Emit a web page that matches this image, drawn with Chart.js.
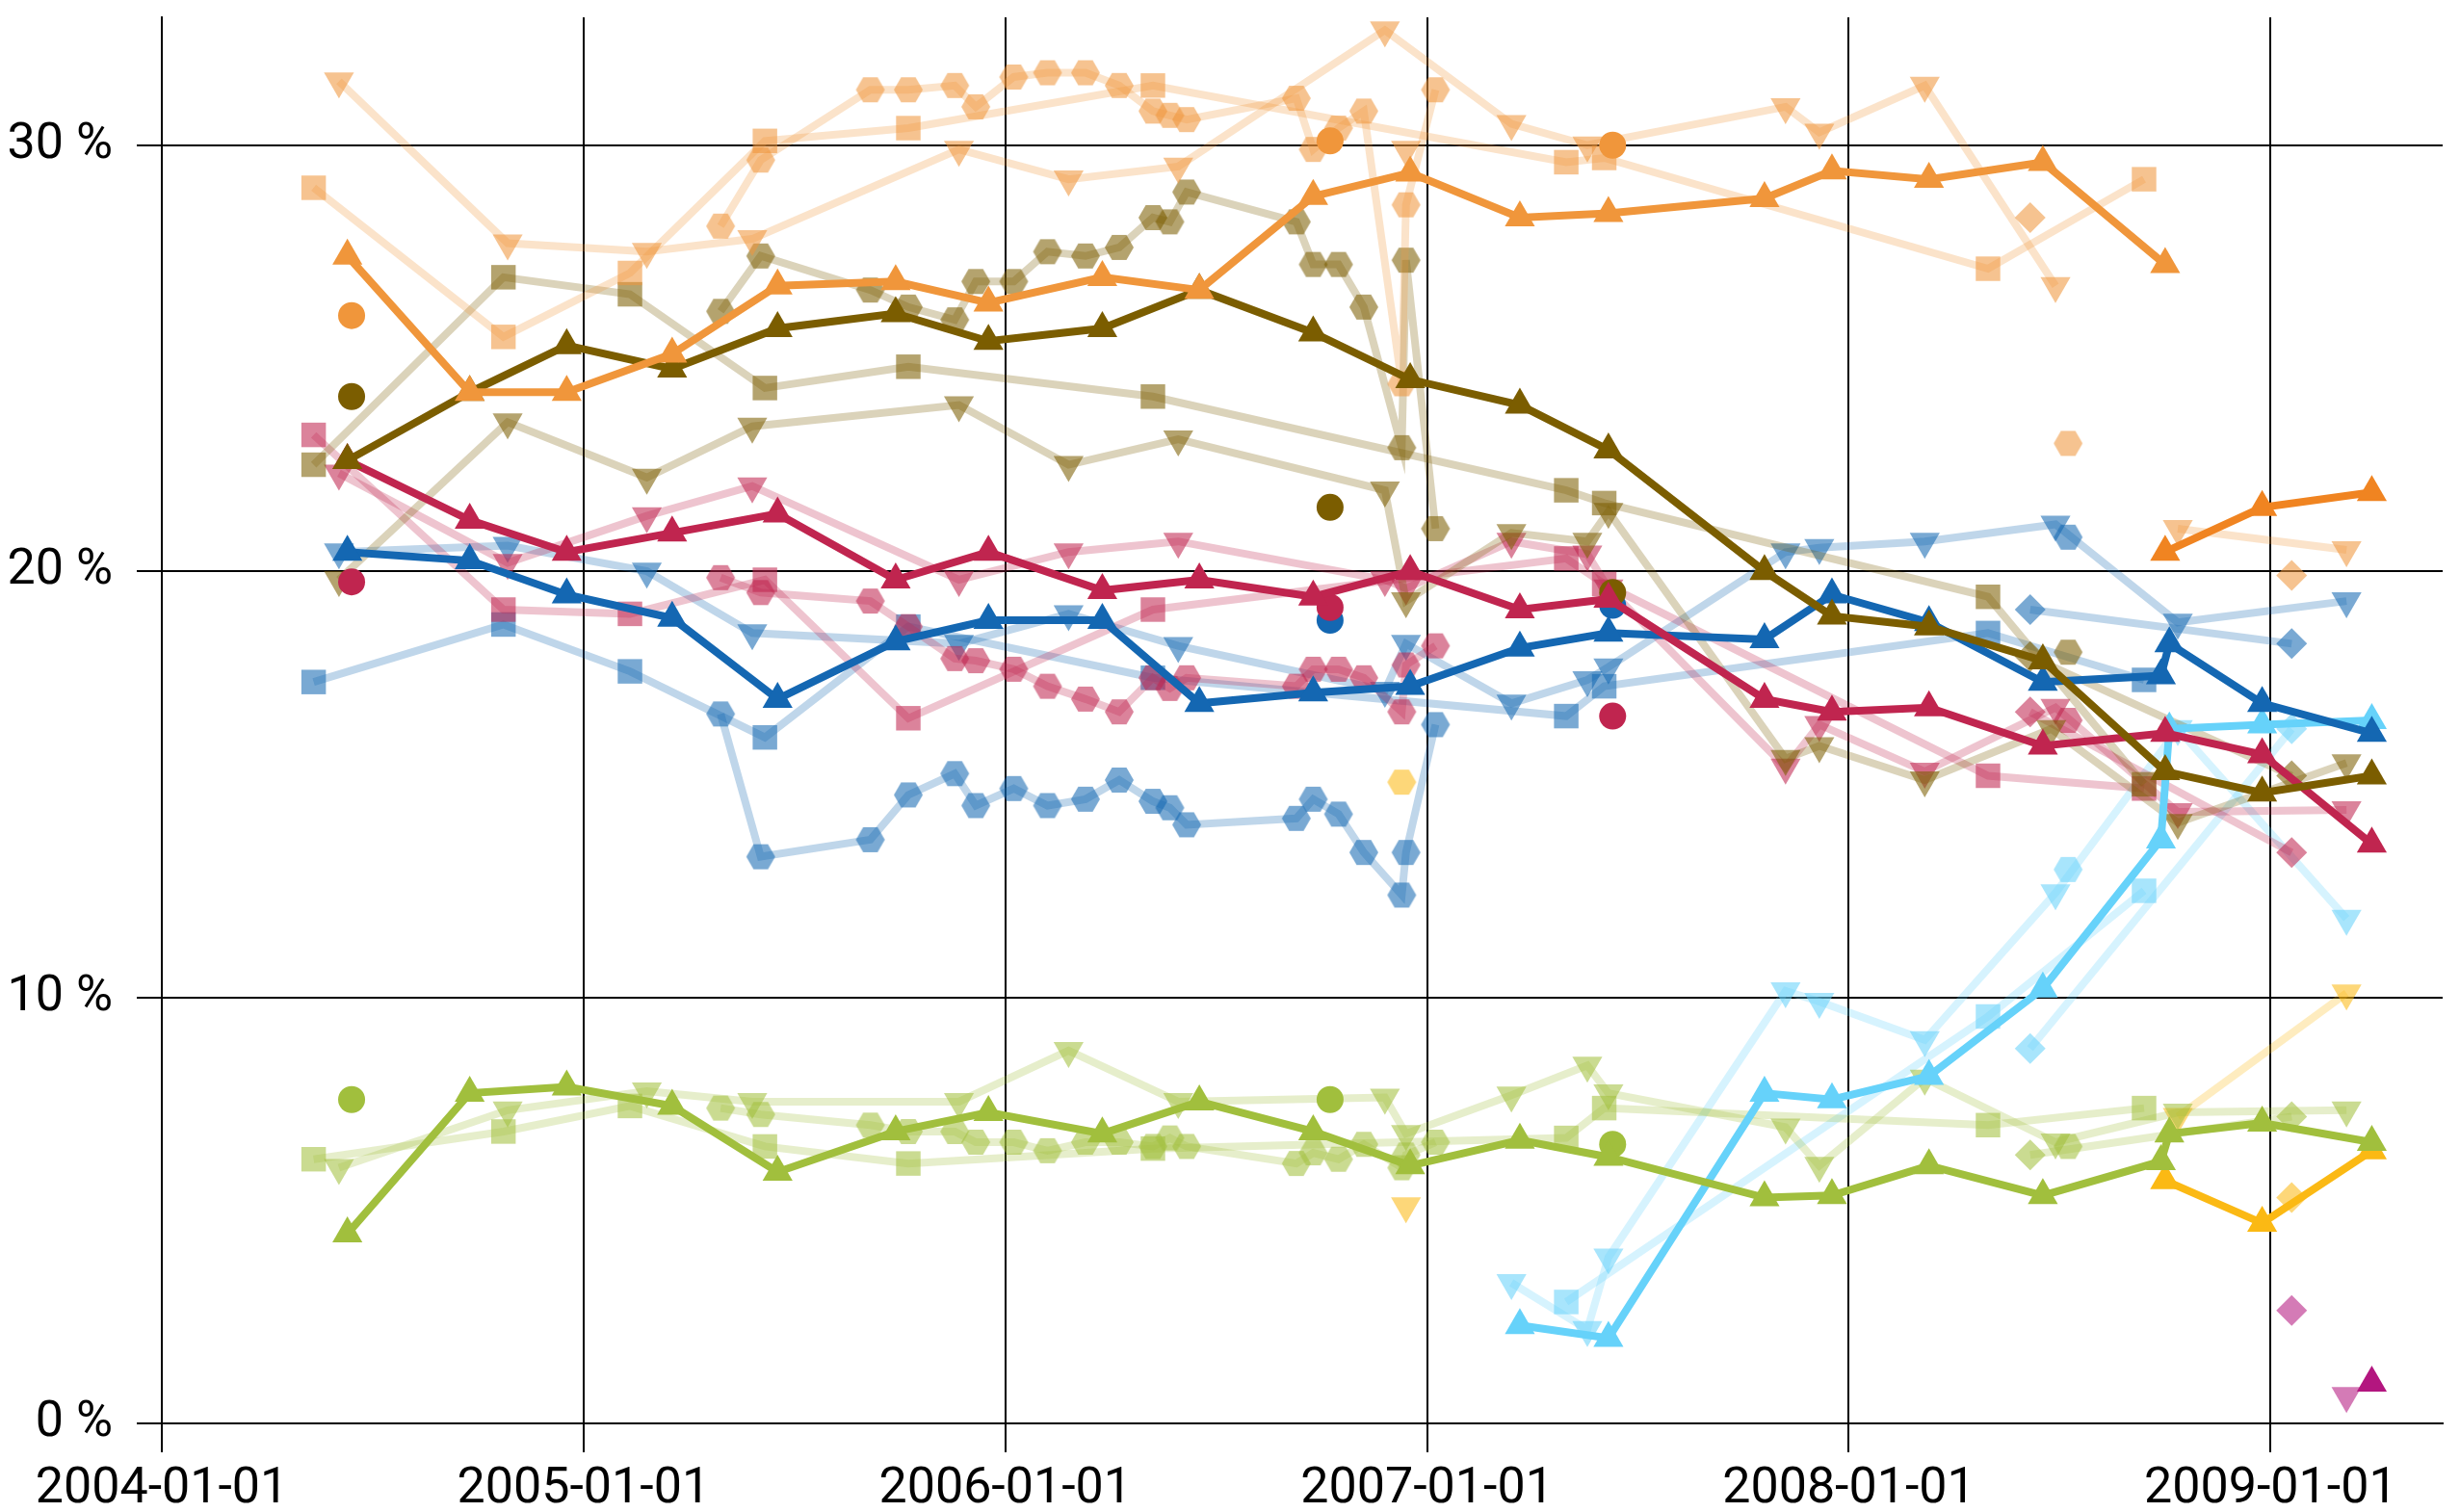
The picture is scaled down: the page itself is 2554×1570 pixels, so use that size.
<!DOCTYPE html>
<html>
<head>
<meta charset="utf-8">
<script src="https://cdn.jsdelivr.net/npm/chart.js@4.4.1/dist/chart.umd.min.js"></script>
<style>
  html, body { margin: 0; padding: 0; background: #fff; }
  #chart { display: block; }
</style>
</head>
<body>
<canvas id="chart" width="2554" height="1570"></canvas>
<script>
// axis ticks
const xYears = [2004, 2005, 2006, 2007, 2008, 2009];
const yTicks = [0, 10, 20, 30];

// poll values: [decimal year, percent]
// orange party
const orangeMain = [[2004.44,27.4],[2004.73,24.2],[2004.96,24.2],[2005.21,25.1],[2005.46,26.7],[2005.74,26.8],[2005.96,26.3],[2006.23,26.9],[2006.46,26.6],[2006.73,28.8],[2006.96,29.35],[2007.22,28.3],[2007.43,28.4],[2007.8,28.75],[2007.96,29.4],[2008.19,29.2],[2008.46,29.6],[2008.75,27.2]];
const orangeSquare = [[2004.36,29.0],[2004.81,25.5],[2005.11,27.0],[2005.43,30.1],[2005.77,30.4],[2006.35,31.4],[2007.33,29.6],[2007.42,29.7],[2008.33,27.1],[2008.70,29.2]];
const orangeDown = [[2004.42,31.5],[2004.82,27.7],[2005.15,27.5],[2005.40,27.8],[2005.89,29.9],[2006.15,29.2],[2006.41,29.5],[2006.90,32.7],[2007.20,30.5],[2007.38,30.0],[2007.85,30.9],[2007.93,30.3],[2008.18,31.4],[2008.49,26.7]];
const orangeDownLone = [[2006.95,29.9]];
const orangeHex = [[2005.325,28.1],[2005.42,29.65],[2005.68,31.3],[2005.77,31.3],[2005.88,31.4],[2005.93,30.9],[2006.02,31.6],[2006.10,31.7],[2006.19,31.7],[2006.27,31.4],[2006.35,30.8],[2006.39,30.7],[2006.43,30.6],[2006.69,31.1],[2006.73,29.9],[2006.79,30.4],[2006.85,30.8],[2006.94,24.4],[2006.95,28.6],[2007.02,31.3]];
const orangeHexLone = [[2008.52,23.0]];
const orangeDiamond = [[2008.43,28.3]];
const orangeCircle = [[2004.45,26.0],[2006.77,30.1],[2007.44,30.0]];

// orange party, after the split
const newOrangeMain = [[2008.75,20.45],[2008.98,21.5],[2009.24,21.85]];
const newOrangeDown = [[2008.78,21.0],[2009.18,20.5]];
const newOrangeDiamond = [[2009.05,19.9]];

// olive party
const oliveMain = [[2004.44,22.6],[2004.73,24.2],[2004.96,25.3],[2005.21,24.75],[2005.46,25.7],[2005.74,26.05],[2005.96,25.4],[2006.23,25.7],[2006.46,26.6],[2006.73,25.6],[2006.96,24.5],[2007.22,23.9],[2007.43,22.85],[2007.8,20.0],[2007.96,18.95],[2008.19,18.7],[2008.46,17.9],[2008.75,15.3],[2008.98,14.8],[2009.24,15.2]];
const oliveSquare = [[2004.36,22.5],[2004.81,26.9],[2005.11,26.5],[2005.43,24.3],[2005.77,24.8],[2006.35,24.1],[2007.33,21.9],[2007.42,21.6],[2008.33,19.4],[2008.70,15.0]];
const oliveDown = [[2004.42,19.8],[2004.82,23.5],[2005.15,22.2],[2005.40,23.4],[2005.89,23.9],[2006.15,22.5],[2006.41,23.1],[2006.90,21.9],[2006.95,19.3],[2007.20,20.9],[2007.38,20.7],[2007.43,21.4],[2007.85,15.6],[2007.93,15.9],[2008.18,15.1],[2008.48,16.3],[2008.78,14.1],[2009.18,15.5]];
const oliveHex = [[2005.325,26.1],[2005.42,27.4],[2005.68,26.6],[2005.77,26.2],[2005.88,25.9],[2005.93,26.8],[2006.02,26.8],[2006.10,27.5],[2006.19,27.4],[2006.27,27.6],[2006.35,28.3],[2006.39,28.2],[2006.43,28.9],[2006.69,28.2],[2006.73,27.2],[2006.79,27.2],[2006.85,26.2],[2006.94,22.9],[2006.95,27.3],[2007.02,21.0]];
const oliveHexLone = [[2008.52,18.1]];
const oliveDiamond = [[2008.43,18.0],[2009.05,15.2]];
const oliveCircle = [[2004.45,24.1],[2006.77,21.5],[2007.44,19.5]];

// crimson party
const crimsonMain = [[2004.44,22.6],[2004.73,21.2],[2004.96,20.45],[2005.21,20.9],[2005.46,21.35],[2005.74,19.8],[2005.96,20.45],[2006.23,19.55],[2006.46,19.8],[2006.73,19.4],[2006.96,20.0],[2007.22,19.1],[2007.43,19.35],[2007.8,17.0],[2007.96,16.7],[2008.19,16.8],[2008.46,15.9],[2008.75,16.2],[2008.98,15.7],[2009.24,13.6]];
const crimsonSquare = [[2004.36,23.2],[2004.81,19.1],[2005.11,19.0],[2005.43,19.8],[2005.77,16.55],[2006.35,19.1],[2007.33,20.3],[2007.42,19.7],[2008.33,15.2],[2008.70,14.9]];
const crimsonDown = [[2004.42,22.3],[2004.82,20.2],[2005.15,21.3],[2005.40,22.0],[2005.89,19.8],[2006.15,20.45],[2006.41,20.7],[2006.90,19.8],[2006.95,19.6],[2007.20,20.7],[2007.38,20.4],[2007.43,19.6],[2007.85,15.4],[2007.93,16.4],[2008.18,15.3],[2008.49,16.8],[2008.78,14.35],[2009.18,14.4]];
const crimsonHex = [[2005.325,19.85],[2005.42,19.5],[2005.68,19.3],[2005.77,18.7],[2005.88,17.95],[2005.93,17.9],[2006.02,17.7],[2006.10,17.3],[2006.19,17.0],[2006.27,16.7],[2006.35,17.5],[2006.39,17.25],[2006.43,17.5],[2006.69,17.3],[2006.73,17.7],[2006.79,17.7],[2006.85,17.5],[2006.94,16.7],[2006.95,17.8],[2007.02,18.25]];
const crimsonHexLone = [[2008.52,16.5]];
const crimsonDiamond = [[2008.43,16.7],[2009.05,13.4]];
const crimsonCircle = [[2004.45,19.75],[2006.77,19.15],[2007.44,16.6]];

// blue party
const blueMain = [[2004.44,20.45],[2004.73,20.25],[2004.96,19.45],[2005.21,18.9],[2005.46,17.0],[2005.74,18.35],[2005.96,18.85],[2006.23,18.85],[2006.46,16.9],[2006.73,17.15],[2006.96,17.3],[2007.22,18.2],[2007.43,18.55],[2007.8,18.4],[2007.96,19.45],[2008.19,18.8],[2008.46,17.4],[2008.74,17.55],[2008.76,18.3],[2008.98,16.9],[2009.24,16.2]];
const blueSquare = [[2004.36,17.4],[2004.81,18.75],[2005.11,17.65],[2005.43,16.1],[2005.77,18.7],[2006.35,17.5],[2007.33,16.6],[2007.42,17.3],[2008.33,18.55],[2008.70,17.45]];
const blueDown = [[2004.42,20.45],[2004.82,20.6],[2005.15,20.0],[2005.40,18.55],[2005.89,18.3],[2006.15,19.0],[2006.41,18.25],[2006.90,17.2],[2006.95,18.3],[2007.20,16.9],[2007.38,17.45],[2007.43,17.75],[2007.85,20.45],[2007.93,20.55],[2008.18,20.7],[2008.49,21.1],[2008.78,18.8],[2009.18,19.3]];
const blueHex = [[2005.325,16.65],[2005.42,13.3],[2005.68,13.7],[2005.77,14.75],[2005.88,15.25],[2005.93,14.5],[2006.02,14.9],[2006.10,14.5],[2006.19,14.65],[2006.27,15.1],[2006.35,14.6],[2006.39,14.45],[2006.43,14.05],[2006.69,14.2],[2006.73,14.65],[2006.79,14.3],[2006.85,13.4],[2006.94,12.4],[2006.95,13.4],[2007.02,16.4]];
const blueHexLone = [[2008.52,20.8]];
const blueDiamond = [[2008.43,19.1],[2009.05,18.3]];
const blueCircle = [[2006.77,18.85],[2007.44,19.2]];

// green party
const greenMain = [[2004.44,4.45],[2004.73,7.75],[2004.96,7.9],[2005.21,7.45],[2005.46,5.9],[2005.74,6.85],[2005.96,7.3],[2006.23,6.8],[2006.46,7.55],[2006.73,6.85],[2006.96,6.05],[2007.22,6.65],[2007.43,6.25],[2007.8,5.3],[2007.96,5.35],[2008.19,6.05],[2008.46,5.35],[2008.74,6.15],[2008.76,6.8],[2008.98,7.05],[2009.24,6.6]];
const greenSquare = [[2004.36,6.2],[2004.81,6.85],[2005.11,7.45],[2005.43,6.5],[2005.77,6.1],[2006.35,6.45],[2007.33,6.7],[2007.42,7.4],[2008.33,7.0],[2008.70,7.4]];
const greenDown = [[2004.42,6.0],[2004.82,7.35],[2005.15,7.8],[2005.40,7.55],[2005.89,7.55],[2006.15,8.75],[2006.41,7.55],[2006.90,7.65],[2006.95,6.8],[2007.20,7.7],[2007.38,8.4],[2007.43,7.75],[2007.85,6.95],[2007.93,6.05],[2008.18,8.1],[2008.49,6.6],[2008.78,7.3],[2009.18,7.35]];
const greenHex = [[2005.325,7.4],[2005.42,7.25],[2005.68,7.0],[2005.77,6.85],[2005.88,6.85],[2005.93,6.6],[2006.02,6.6],[2006.10,6.4],[2006.19,6.6],[2006.27,6.6],[2006.35,6.5],[2006.39,6.7],[2006.43,6.5],[2006.69,6.1],[2006.73,6.35],[2006.79,6.2],[2006.85,6.55],[2006.94,6.0],[2006.95,6.3],[2007.02,6.6]];
const greenHexLone = [[2008.52,6.5]];
const greenDiamond = [[2008.43,6.3],[2009.05,7.2]];
const greenCircle = [[2004.45,7.6],[2006.77,7.6],[2007.44,6.55]];

// light blue party
const lightBlueMain = [[2007.22,2.3],[2007.43,2.0],[2007.8,7.75],[2007.96,7.6],[2008.19,8.15],[2008.46,10.2],[2008.74,13.7],[2008.76,16.3],[2008.98,16.4],[2009.24,16.5]];
const lightBlueSquare = [[2007.33,2.85],[2008.33,9.55],[2008.70,12.5]];
const lightBlueDown = [[2007.20,3.3],[2007.38,2.2],[2007.43,3.9],[2007.85,10.15],[2007.93,9.9],[2008.18,9.0],[2008.49,12.45],[2008.78,16.3],[2009.18,11.85]];
const lightBlueHexLone = [[2008.52,13.0]];
const lightBlueDiamond = [[2008.43,8.8],[2009.05,16.3]];

// yellow party
const yellowMain = [[2008.75,5.7],[2008.98,4.7],[2009.24,6.4]];
const yellowDown = [[2008.78,7.2],[2009.18,10.1]];
const yellowDownLone = [[2006.95,5.1]];
const yellowHexLone = [[2006.94,15.05]];
const yellowDiamond = [[2009.05,5.3]];

// magenta party
const magentaMain = [[2009.24,0.95]];
const magentaDown = [[2009.18,0.65]];
const magentaDiamond = [[2009.05,2.65]];

const colors = {
    orange: [240, 150, 59],
    newOrange: [240, 132, 33],
    olive: [123, 93, 0],
    crimson: [192, 37, 79],
    blue: [20, 103, 178],
    green: [161, 191, 61],
    lightBlue: [102, 210, 250],
    yellow: [251, 185, 20],
    magenta: [179, 22, 127]
};

function rgba(rgb, a) {
    return `rgba(${rgb[0]}, ${rgb[1]}, ${rgb[2]}, ${a})`;
}

// Chart.js has no hexagon marker, so draw one on a small canvas
function hexagon(fill) {
    const c = document.createElement('canvas');
    c.width = 32;
    c.height = 28;
    const g = c.getContext('2d');
    g.fillStyle = fill;
    g.beginPath();
    for (let i = 0; i < 6; i++) {
        const a = i * Math.PI / 3;
        const x = 16 + 15 * Math.cos(a);
        const y = 14 + 15 * Math.sin(a);
        if (i === 0) g.moveTo(x, y); else g.lineTo(x, y);
    }
    g.closePath();
    g.fill();
    return c;
}

function toPoints(pairs) {
    return pairs.map(p => ({ x: p[0], y: p[1] }));
}

function markerStyle(style, fill) {
    if (style === 'down') return { pointStyle: 'triangle', pointRotation: 180, pointRadius: 18 };
    if (style === 'hex') return { pointStyle: hexagon(fill), pointRotation: 0, pointRadius: 15 };
    if (style === 'rect') return { pointStyle: 'rect', pointRotation: 0, pointRadius: 18 };
    if (style === 'rectRot') return { pointStyle: 'rectRot', pointRotation: 0, pointRadius: 16 };
    return { pointStyle: 'circle', pointRotation: 0, pointRadius: 14 };
}

function mainLine(pairs, rgb) {
    return {
        data: toPoints(pairs),
        borderColor: rgba(rgb, 1),
        backgroundColor: rgba(rgb, 1),
        borderWidth: 8,
        pointStyle: 'triangle',
        pointRadius: 18,
        pointBorderWidth: 0,
        order: 0
    };
}

function pollLine(pairs, rgb, style) {
    const fill = rgba(rgb, 0.57);
    return Object.assign({
        data: toPoints(pairs),
        borderColor: rgba(rgb, 0.27),
        backgroundColor: fill,
        borderWidth: 8,
        pointBorderWidth: 0,
        order: 2
    }, markerStyle(style, fill));
}

function lonePoints(pairs, rgb, style, alpha) {
    const fill = rgba(rgb, alpha);
    return Object.assign({
        data: toPoints(pairs),
        showLine: false,
        borderColor: fill,
        backgroundColor: fill,
        pointBorderWidth: 0,
        order: alpha === 1 ? 1 : 2
    }, markerStyle(style, fill));
}

const datasets = [
    mainLine(orangeMain, colors.orange),
    mainLine(newOrangeMain, colors.newOrange),
    mainLine(oliveMain, colors.olive),
    mainLine(crimsonMain, colors.crimson),
    mainLine(blueMain, colors.blue),
    mainLine(greenMain, colors.green),
    mainLine(lightBlueMain, colors.lightBlue),
    mainLine(yellowMain, colors.yellow),
    mainLine(magentaMain, colors.magenta),

    lonePoints(orangeCircle, colors.orange, 'circle', 1),
    lonePoints(oliveCircle, colors.olive, 'circle', 1),
    lonePoints(crimsonCircle, colors.crimson, 'circle', 1),
    lonePoints(blueCircle, colors.blue, 'circle', 1),
    lonePoints(greenCircle, colors.green, 'circle', 1),

    pollLine(orangeSquare, colors.orange, 'rect'),
    pollLine(orangeDown, colors.orange, 'down'),
    pollLine(orangeHex, colors.orange, 'hex'),
    lonePoints(orangeDownLone, colors.orange, 'down', 0.57),
    lonePoints(orangeHexLone, colors.orange, 'hex', 0.57),
    lonePoints(orangeDiamond, colors.orange, 'rectRot', 0.57),
    pollLine(newOrangeDown, colors.orange, 'down'),
    lonePoints(newOrangeDiamond, colors.orange, 'rectRot', 0.57),

    pollLine(oliveSquare, colors.olive, 'rect'),
    pollLine(oliveDown, colors.olive, 'down'),
    pollLine(oliveHex, colors.olive, 'hex'),
    lonePoints(oliveHexLone, colors.olive, 'hex', 0.57),
    pollLine(oliveDiamond, colors.olive, 'rectRot'),

    pollLine(crimsonSquare, colors.crimson, 'rect'),
    pollLine(crimsonDown, colors.crimson, 'down'),
    pollLine(crimsonHex, colors.crimson, 'hex'),
    lonePoints(crimsonHexLone, colors.crimson, 'hex', 0.57),
    pollLine(crimsonDiamond, colors.crimson, 'rectRot'),

    pollLine(blueSquare, colors.blue, 'rect'),
    pollLine(blueDown, colors.blue, 'down'),
    pollLine(blueHex, colors.blue, 'hex'),
    lonePoints(blueHexLone, colors.blue, 'hex', 0.57),
    pollLine(blueDiamond, colors.blue, 'rectRot'),

    pollLine(greenSquare, colors.green, 'rect'),
    pollLine(greenDown, colors.green, 'down'),
    pollLine(greenHex, colors.green, 'hex'),
    lonePoints(greenHexLone, colors.green, 'hex', 0.57),
    pollLine(greenDiamond, colors.green, 'rectRot'),

    pollLine(lightBlueSquare, colors.lightBlue, 'rect'),
    pollLine(lightBlueDown, colors.lightBlue, 'down'),
    lonePoints(lightBlueHexLone, colors.lightBlue, 'hex', 0.57),
    pollLine(lightBlueDiamond, colors.lightBlue, 'rectRot'),

    pollLine(yellowDown, colors.yellow, 'down'),
    lonePoints(yellowDownLone, colors.yellow, 'down', 0.57),
    lonePoints(yellowHexLone, colors.yellow, 'hex', 0.57),
    lonePoints(yellowDiamond, colors.yellow, 'rectRot', 0.57),

    lonePoints(magentaDown, colors.magenta, 'down', 0.57),
    lonePoints(magentaDiamond, colors.magenta, 'rectRot', 0.57)
];

const tickFont = { family: 'Roboto', size: 52 };

// keep the plot area where the reference has it: no extra label padding
function noPadding(s) {
    s.paddingTop = 0;
    s.paddingBottom = 0;
    s.paddingLeft = 0;
    s.paddingRight = 0;
}

new Chart(document.getElementById('chart'), {
    type: 'line',
    data: { datasets: datasets },
    options: {
        responsive: false,
        animation: false,
        devicePixelRatio: 1,
        layout: { padding: { top: 12, right: 0, bottom: 0, left: 0 } },
        elements: { line: { tension: 0 } },
        plugins: {
            legend: { display: false },
            tooltip: { enabled: false }
        },
        scales: {
            x: {
                type: 'linear',
                min: 2004,
                max: 2009.408,
                afterBuildTicks: s => { s.ticks = xYears.map(v => ({ value: v })); },
                afterFit: s => { s.height = 92; noPadding(s); },
                grid: { color: '#000', lineWidth: 2, tickLength: 30 },
                border: { color: '#000', width: 2 },
                ticks: {
                    font: tickFont,
                    color: '#000',
                    padding: 8,
                    maxRotation: 0,
                    autoSkip: false,
                    callback: v => `${v}-01-01`
                }
            },
            y: {
                min: 0,
                max: 33,
                afterBuildTicks: s => { s.ticks = yTicks.map(v => ({ value: v })); },
                afterFit: s => { s.width = 168; noPadding(s); },
                grid: { color: '#000', lineWidth: 2, tickLength: 26 },
                border: { color: '#000', width: 2 },
                ticks: {
                    font: tickFont,
                    color: '#000',
                    padding: 25,
                    callback: v => `${v} %`
                }
            }
        }
    }
});
</script>
</body>
</html>
